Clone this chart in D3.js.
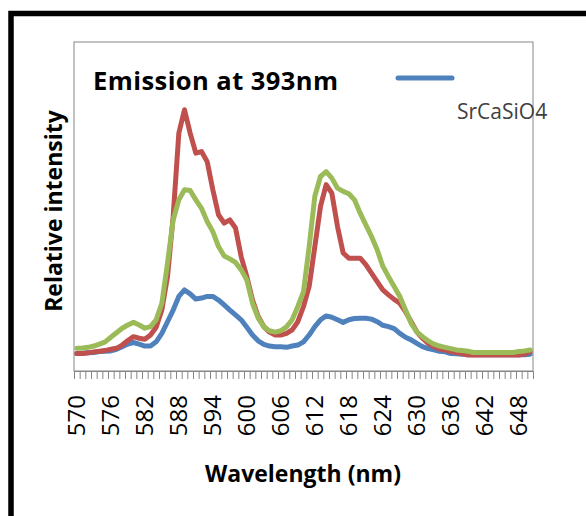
<!DOCTYPE html>
<html>
<head>
<meta charset="utf-8">
<script src="https://cdn.jsdelivr.net/npm/d3@7"></script>
<style>
  body { margin: 0; background: #fff; }
  svg { display: block; }
  text { font-family: "Open Sans", sans-serif; }
</style>
</head>
<body>
<svg id="chart" width="586" height="516"></svg>
<script>
// categories: wavelength in nm, one per point
const wavelengths = d3.range(570, 651);
const tickLabels = [570, 576, 582, 588, 594, 600, 606, 612, 618, 624, 630, 636, 642, 648];

// relative intensity (arbitrary units)
const srCaSiO4 = [54, 55, 56, 57, 60, 61, 62, 67, 75, 83, 88, 83, 77, 77, 90, 116, 152, 188, 230, 250,
  238, 222, 225, 230, 230, 219, 204, 188, 173, 158, 135, 111, 93, 82, 77, 75, 75, 73, 77, 80,
  90, 111, 137, 158, 170, 166, 158, 150, 158, 162, 163, 163, 160, 152, 141, 137, 131, 116, 104, 96,
  85, 75, 69, 65, 61, 59, 54, 53, 52, 51, 50, 50, 50, 50, 50, 50, 50, 50, 50, 50, 52];
const series2 = [54, 54, 56, 59, 61, 63, 67, 70, 80, 94, 106, 101, 98, 111, 135, 188, 291, 477, 734, 806,
  734, 672, 677, 646, 559, 482, 456, 466, 441, 353, 291, 219, 168, 137, 120, 111, 111, 116, 127, 152,
  199, 261, 384, 508, 575, 549, 446, 364, 348, 348, 348, 328, 302, 276, 250, 235, 221, 209, 183, 152,
  121, 101, 85, 75, 68, 65, 60, 57, 54, 49, 49, 49, 49, 49, 49, 49, 49, 49, 49, 52, 60];
const series3 = [70, 71, 73, 77, 83, 90, 104, 118, 132, 142, 150, 142, 132, 137, 158, 209, 333, 466, 528, 559,
  557, 528, 502, 461, 430, 384, 355, 346, 335, 312, 281, 209, 163, 136, 124, 120, 124, 136, 158, 199,
  245, 384, 539, 600, 615, 595, 564, 554, 547, 528, 487, 451, 415, 374, 323, 291, 261, 230, 188, 147,
  121, 106, 93, 83, 77, 73, 69, 65, 63, 61, 57, 57, 57, 57, 57, 57, 57, 57, 60, 62, 65];

const svg = d3.select("#chart");
const plotLeft = 74, plotRight = 533, plotTop = 42, plotBottom = 371;

// outer frame
svg.append("rect")
  .attr("x", 11).attr("y", 13.5)
  .attr("width", 600).attr("height", 520)
  .attr("fill", "none").attr("stroke", "#000").attr("stroke-width", 5.5);

const x = d3.scaleBand().domain(wavelengths).range([plotLeft, plotRight]);
const xEdge = d3.scaleLinear().domain([569.5, 650.5]).range([plotLeft, plotRight]);
const y = d3.scaleLinear().domain([0, 1015]).range([plotBottom, plotTop]);

// plot area box
svg.append("rect")
  .attr("x", plotLeft).attr("y", plotTop)
  .attr("width", plotRight - plotLeft).attr("height", plotBottom - plotTop)
  .attr("fill", "none").attr("stroke", "#868686").attr("stroke-width", 1);

// tick marks between categories
const edges = d3.range(569.5, 651, 1);
svg.append("g")
  .attr("transform", `translate(0,${plotBottom})`)
  .call(d3.axisBottom(xEdge).tickValues(edges).tickSize(8).tickFormat(""))
  .call(g => g.select(".domain").attr("stroke", "#868686"))
  .call(g => g.selectAll(".tick line").attr("stroke", "#868686"));

// labels every 6 nm
svg.append("g")
  .attr("transform", `translate(0,${plotBottom})`)
  .call(d3.axisBottom(x).tickValues(tickLabels).tickSize(0))
  .call(g => g.select(".domain").remove())
  .call(g => g.selectAll(".tick text")
    .attr("font-family", "Open Sans")
    .attr("font-size", 24)
    .attr("fill", "#000")
    .attr("transform", "rotate(-90)")
    .attr("text-anchor", "end")
    .attr("x", -24)
    .attr("y", 0)
    .attr("dy", "0.36em"));

const line = d3.line()
  .x((d, i) => x(wavelengths[i]) + x.bandwidth() / 2)
  .y(d => y(d));

const series = [
  { values: srCaSiO4, color: "#4F81BD" },
  { values: series2, color: "#C0504D" },
  { values: series3, color: "#9BBB59" }
];

svg.selectAll("path.series")
  .data(series)
  .join("path")
  .attr("class", "series")
  .attr("d", d => line(d.values))
  .attr("fill", "none")
  .attr("stroke", d => d.color)
  .attr("stroke-width", 5)
  .attr("stroke-linejoin", "round")
  .attr("stroke-linecap", "round");

// chart title
svg.append("text")
  .attr("x", 93).attr("y", 90)
  .attr("font-size", 25.5).attr("font-weight", "bold")
  .attr("textLength", 245)
  .text("Emission at 393nm");

// legend
svg.append("line")
  .attr("x1", 398).attr("x2", 452)
  .attr("y1", 78).attr("y2", 78)
  .attr("stroke", "#4F81BD").attr("stroke-width", 5)
  .attr("stroke-linecap", "round");
svg.append("text")
  .attr("x", 457).attr("y", 119)
  .attr("font-size", 21).attr("fill", "#404040")
  .text("SrCaSiO4");

// axis titles
svg.append("text")
  .attr("transform", "translate(62,211) rotate(-90)")
  .attr("text-anchor", "middle")
  .attr("font-size", 23).attr("font-weight", "bold")
  .text("Relative intensity");

svg.append("text")
  .attr("x", 303).attr("y", 482)
  .attr("text-anchor", "middle")
  .attr("font-size", 23).attr("font-weight", "bold")
  .text("Wavelength (nm)");
</script>
</body>
</html>
